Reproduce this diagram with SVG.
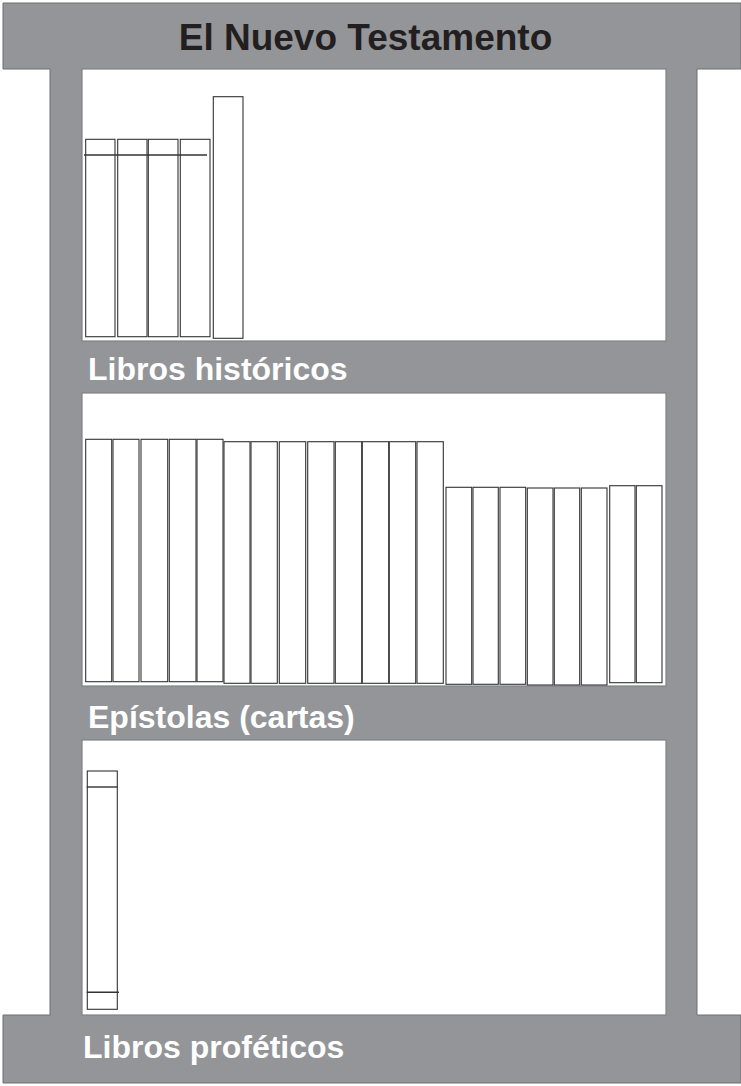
<svg xmlns="http://www.w3.org/2000/svg" width="741" height="1086" viewBox="0 0 741 1086">
<style>
.frame{fill:#939598;stroke:#6d6e71;stroke-width:1}
.panel{fill:#ffffff;stroke:#808285;stroke-width:1.2}
.book{fill:#ffffff;stroke:#333333;stroke-width:1.1}
.band{stroke:#333333;stroke-width:1.4;fill:none}
.title{font-family:"Liberation Sans",Arial,sans-serif;font-weight:bold;font-size:37px;fill:#231f20}
.label{font-family:"Liberation Sans",Arial,sans-serif;font-weight:bold;font-size:32px;fill:#ffffff}
</style>
<rect x="0" y="0" width="741" height="1086" fill="#ffffff"/>
<g id="frame">
<path class="frame" d="M3,3 H741 V69 H697 V1015 H741 V1083 H3 V1015 H50 V69 H3 Z"/>
<text class="title" x="365.5" y="50" text-anchor="middle">El Nuevo Testamento</text>
</g>
<g id="shelf-historicos">
<rect class="panel" x="82" y="69" width="584" height="272"/>
<rect class="book" x="85.7" y="139.3" width="29.3" height="197.4"/>
<rect class="book" x="117.7" y="139.3" width="29.3" height="197.4"/>
<rect class="book" x="148.3" y="139.3" width="29.7" height="197.4"/>
<rect class="book" x="180.3" y="139.3" width="29.7" height="197.4"/>
<line class="band" x1="84" y1="155" x2="207" y2="155"/>
<rect class="book" x="213.3" y="96.7" width="29.7" height="241.6"/>
<text class="label" x="88" y="380">Libros históricos</text>
</g>
<g id="shelf-epistolas">
<rect class="panel" x="82" y="393" width="584" height="293"/>
<rect class="book" x="85.7" y="439.3" width="26" height="242.4"/>
<rect class="book" x="113" y="439.3" width="26" height="242.4"/>
<rect class="book" x="141" y="439.3" width="26.7" height="242.4"/>
<rect class="book" x="169.3" y="439.3" width="26.7" height="242.4"/>
<rect class="book" x="197" y="439.3" width="26" height="242.4"/>
<rect class="book" x="224" y="441.7" width="26" height="241.6"/>
<rect class="book" x="251" y="441.7" width="26.3" height="241.6"/>
<rect class="book" x="279.3" y="441.7" width="26.4" height="241.6"/>
<rect class="book" x="307.7" y="441.7" width="26.3" height="241.6"/>
<rect class="book" x="335.3" y="441.7" width="26.4" height="241.6"/>
<rect class="book" x="362.3" y="441.7" width="26.4" height="241.6"/>
<rect class="book" x="389.3" y="441.7" width="26.4" height="241.6"/>
<rect class="book" x="417" y="441.7" width="26.3" height="241.6"/>
<rect class="book" x="446" y="487.3" width="25.7" height="197"/>
<rect class="book" x="473" y="487.3" width="25.3" height="197"/>
<rect class="book" x="500" y="487.3" width="25.7" height="197"/>
<rect class="book" x="527.3" y="488" width="25.7" height="197"/>
<rect class="book" x="554.3" y="488" width="25.4" height="197"/>
<rect class="book" x="581.3" y="488" width="25.7" height="197"/>
<rect class="book" x="609.7" y="485.7" width="25.3" height="197"/>
<rect class="book" x="636.3" y="485.7" width="25.7" height="197"/>
<text class="label" x="88" y="728">Epístolas (cartas)</text>
</g>
<g id="shelf-profeticos">
<rect class="panel" x="82" y="740" width="584" height="275"/>
<rect class="book" x="87.3" y="771" width="30" height="238.3"/>
<line class="band" x1="86.7" y1="787" x2="117.3" y2="787"/>
<line class="band" x1="86.7" y1="992.3" x2="119" y2="992.3"/>
<text class="label" x="83" y="1058">Libros proféticos</text>
</g>
</svg>
